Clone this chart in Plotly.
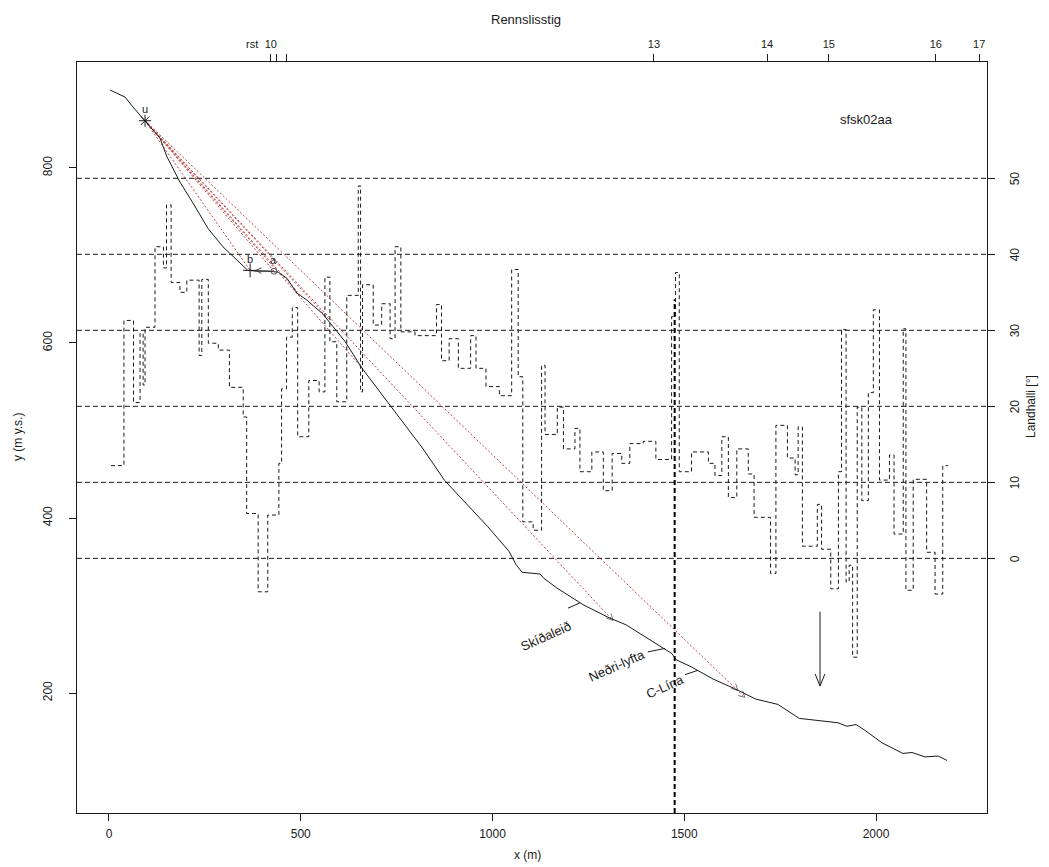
import math
import plotly.graph_objects as go

# Terrain profile along the path (x in m, elevation in m a.s.l.)
profile_x = [3, 42, 60, 86, 94, 115, 133, 151, 185, 219, 258, 297, 342, 362, 386, 412,
             441, 464, 490, 516, 558, 615, 660, 740, 819, 875, 931, 988, 1043, 1061, 1077,
             1124, 1134, 1168, 1236, 1304, 1348, 1405, 1439, 1468, 1479, 1518, 1575, 1631,
             1687, 1744, 1800, 1857, 1901, 1924, 1948, 1969, 2016, 2070, 2094, 2128, 2162, 2185]
profile_y = [889, 881, 871, 858, 854, 843, 834, 813, 784, 760, 731, 710, 691, 683, 682, 682,
             681, 674, 657, 649, 633, 602, 571, 525, 479, 443, 417, 390, 362, 347, 338,
             336, 331, 320, 301, 286, 278, 262, 253, 245, 238, 230, 216, 205,
             193, 187, 171, 168, 166, 162, 164, 158, 143, 131, 132, 127, 128, 123]

# Slope (Landhalli) per segment: segment edges in m and slope in degrees
slope_edges = [5, 39, 64, 81, 89, 94, 120, 142, 150, 162, 185, 203, 235, 242, 259, 285, 314,
               350, 359, 389, 414, 443, 450, 463, 478, 492, 521, 548, 563, 576, 594, 620, 650,
               656, 661, 689, 711, 733, 746, 761, 798, 854, 867, 887, 911, 943, 957, 983, 1018,
               1050, 1067, 1079, 1106, 1128, 1137, 1169, 1185, 1215, 1228, 1259, 1289, 1312,
               1337, 1358, 1393, 1426, 1467, 1477, 1487, 1519, 1563, 1580, 1598, 1615, 1637,
               1667, 1682, 1725, 1739, 1769, 1789, 1797, 1808, 1847, 1858, 1882, 1902, 1910,
               1922, 1930, 1939, 1951, 1963, 1980, 1993, 2009, 2035, 2047, 2071, 2078, 2097,
               2132, 2154, 2174, 2188]
slope_deg = [12.2, 31.3, 20.5, 29.6, 22.8, 30.4, 41, 38.2, 46.5, 36.3, 35, 36.6, 26.7, 36.7,
             28.3, 27.4, 22.5, 18.6, 5.9, -4.4, 5.7, 12.5, 22.3, 29.1, 33, 16, 23.4, 21.9, 37,
             28.5, 20.6, 34.6, 49, 21.9, 36, 30.7, 33.5, 28.9, 41, 29.8, 29.3, 33.4, 26, 28.9,
             25, 29.3, 25, 22.6, 21.4, 38, 23.9, 4.8, 3.7, 25.4, 16.3, 19.9, 14.4, 17.1, 11.4,
             14, 8.9, 13.8, 12.5, 15.1, 15.4, 13, 31.8, 37.6, 11.4, 14, 12.5, 10.9, 16, 8,
             14.4, 11.1, 5.4, -2, 17.5, 13.2, 11, 17.3, 1.6, 7.1, 1.2, -4, 11.4, 30.1, -3.1,
             -0.9, -13, 19.9, 7.6, 21.8, 32.7, 10.3, 13.6, 3.2, 30.2, -4.2, 10.4, 0.8, -4.7, 12.2]

# Release point u, points b and a, and reach end points seen from u
point_u = (94, 854)
point_b = (368, 683)
point_a = (430, 682)
reach_x = [368, 430, 498, 576, 655, 1314, 1658]
reach_y = [683, 682, 655, 626, 574, 283, 195]

# Vertical marker line and the downward arrow
barrier_x = 1475
barrier_y = [62.9, 650]
arrow_x = 1854
arrow_y = [293, 208]

# Place names along the profile: text position and leader line
place_names = ["Skíðaleið", "Neðri-lyfta", "C-Lína"]
name_x = [1137, 1325, 1450]
name_y = [265, 231, 208]
leader_x0 = [1197, 1405, 1502]
leader_y0 = [297, 247, 221]
leader_x1 = [1228, 1450, 1536]
leader_y1 = [303, 251, 226]

# Axis ticks
x_ticks = [0, 500, 1000, 1500, 2000]
y_ticks = [200, 400, 600, 800]
deg_ticks = [0, 10, 20, 30, 40, 50]
top_ticks = [422, 438, 464, 1421, 1716, 1877, 2156, 2269]
top_labels = ["10", "", "", "13", "14", "15", "16", "17"]
rst_x = 372

X_RANGE = [-83.4, 2289.4]
Y_RANGE = [62.9, 921.1]
D_RANGE = [-33.5, 65.3]

W, H = 1049, 867
ML, MR, MT, MB = 77, 62, 62, 54
PW, PH = W - ML - MR, H - MT - MB
SX = PW / (X_RANGE[1] - X_RANGE[0])   # px per m (x)
SY = PH / (Y_RANGE[1] - Y_RANGE[0])   # px per m (y)

FONT = "Liberation Sans, Arial, sans-serif"
INK = "#1a1a1a"


def px_x(px):
    """Horizontal page pixel -> paper coordinate."""
    return (px - ML) / PW


def px_y(py):
    """Vertical page pixel -> paper coordinate."""
    return (H - MB - py) / PH


def open_head(tip_x, tip_y, from_x, from_y, size=8, spread=28):
    """Open V arrow head at tip, pointing away from 'from', sized in pixels."""
    dxp = (tip_x - from_x) * SX
    dyp = (tip_y - from_y) * SY
    ang = math.atan2(dyp, dxp)
    xs, ys = [], []
    for s in (1, -1):
        a = ang + math.pi - s * math.radians(spread)
        xs.append(tip_x + size * math.cos(a) / SX)
        ys.append(tip_y + size * math.sin(a) / SY)
    return [xs[0], tip_x, xs[1]], [ys[0], tip_y, ys[1]]


def add_line(fig, xs, ys, color=INK, width=1, dash=None, **kw):
    fig.add_trace(go.Scatter(x=xs, y=ys, mode="lines",
                             line=dict(color=color, width=width, dash=dash),
                             hoverinfo="skip", showlegend=False, **kw))


fig = go.Figure()

# Slope step curve on the right axis
fig.add_trace(go.Scatter(
    x=slope_edges, y=slope_deg + [slope_deg[-1]], xaxis="x", yaxis="y2",
    mode="lines", line=dict(color=INK, width=1, dash="4px,3px", shape="hv"),
    hoverinfo="skip", showlegend=False))

# Reach lines from u
for ex, ey in zip(reach_x, reach_y):
    add_line(fig, [point_u[0], ex], [point_u[1], ey], color="rgb(185,70,70)",
             dash="2px,2px")

# Arrow heads at the ends of the two longest reach lines
for ex, ey in zip(reach_x[-2:], reach_y[-2:]):
    hx, hy = open_head(ex, ey, point_u[0], point_u[1], size=7)
    add_line(fig, hx, hy, color="#777")
hx, hy = open_head(reach_x[-1] - 10 / SX * 0.7, reach_y[-1] + 10 / SY * 0.7,
                   point_u[0], point_u[1], size=7)
add_line(fig, hx, hy, color="#777")

# Terrain profile
add_line(fig, profile_x, profile_y)

# Vertical marker line
add_line(fig, [barrier_x, barrier_x], barrier_y, color="black", width=2, dash="5px,3px")

# Downward arrow
add_line(fig, [arrow_x, arrow_x], arrow_y)
hx, hy = open_head(arrow_x, arrow_y[1], arrow_x, arrow_y[0], size=13, spread=22)
add_line(fig, hx, hy)

# Small arrow from a toward b
add_line(fig, [point_a[0], point_b[0]], [point_a[1], point_b[1]], color="#444")
hx, hy = open_head(point_b[0] + 6 / SX, point_b[1], point_a[0], point_a[1], size=6)
add_line(fig, hx, hy, color="#444")

# Points u, b, a
for pt, sym, size, col in [(point_u, "asterisk-open", 10, INK),
                           (point_b, "cross-thin-open", 10, INK),
                           (point_a, "circle-open", 6, "#555")]:
    fig.add_trace(go.Scatter(x=[pt[0]], y=[pt[1]], mode="markers",
                             marker=dict(symbol=sym, size=size, color=col,
                                         line=dict(color=col, width=1)),
                             hoverinfo="skip", showlegend=False))

# Leader lines for place names
for x0, y0, x1, y1 in zip(leader_x0, leader_y0, leader_x1, leader_y1):
    add_line(fig, [x0, x1], [y0, y1])

# Anchor trace for the top axis
fig.add_trace(go.Scatter(x=[X_RANGE[0]], y=[Y_RANGE[0]], xaxis="x2", yaxis="y",
                         mode="markers", marker=dict(opacity=0), hoverinfo="skip",
                         showlegend=False))

shapes = []
for d in deg_ticks:
    shapes.append(dict(type="line", xref="paper", yref="y2", x0=0, x1=1, y0=d, y1=d,
                       line=dict(color=INK, width=1, dash="5px,3px")))


def txt(text, size=12, **kw):
    base = dict(text=text, showarrow=False, xanchor="center", yanchor="middle",
                font=dict(family=FONT, size=size, color=INK))
    base.update(kw)
    return base


annotations = []
for name, tx, ty in zip(place_names, name_x, name_y):
    annotations.append(txt(name, 13, x=tx, y=ty, xref="x", yref="y", textangle=-24))
annotations += [
    txt("u", 11, x=point_u[0], y=point_u[1], xref="x", yref="y", yshift=12),
    txt("b", 11, x=point_b[0], y=point_b[1], xref="x", yref="y", yshift=11),
    txt("a", 11, x=point_a[0], y=point_a[1], xref="x", yref="y", yshift=11),
    txt("sfsk02aa", 13, x=1974, y=855, xref="x", yref="y"),
    txt("rst", 11, x=rst_x, y=px_y(44), xref="x", yref="paper"),
    txt("Rennslisstig", 13, x=px_x(526), y=px_y(20), xref="paper", yref="paper"),
    txt("x (m)", 12, x=px_x(527), y=px_y(855), xref="paper", yref="paper"),
    txt("y (m y.s.)", 12, x=px_x(18), y=px_y(437), xref="paper", yref="paper",
        textangle=-90),
    txt("Landhalli [°]", 12, x=px_x(1031), y=px_y(407), xref="paper", yref="paper",
        textangle=-90),
]
# Right-axis tick labels
for d in deg_ticks:
    annotations.append(txt(str(d), 12, x=px_x(1015), y=d, xref="paper", yref="y2",
                           textangle=-90))

axis_common = dict(showgrid=False, zeroline=False, showline=True, linecolor=INK,
                   linewidth=1, ticks="outside", ticklen=7, tickcolor=INK,
                   tickfont=dict(family=FONT, size=12, color=INK))

fig.update_layout(
    width=W, height=H, margin=dict(l=ML, r=MR, t=MT, b=MB),
    paper_bgcolor="white", plot_bgcolor="white", showlegend=False,
    xaxis=dict(range=X_RANGE, tickvals=x_ticks, ticklabelstandoff=3, **axis_common),
    xaxis2=dict(range=X_RANGE, overlaying="x", side="top", tickvals=top_ticks,
                ticktext=top_labels, ticklabelstandoff=2,
                **{**axis_common, "tickfont": dict(family=FONT, size=11, color=INK)}),
    yaxis=dict(range=Y_RANGE, tickvals=y_ticks, tickangle=-90, ticklabelstandoff=12,
               **axis_common),
    yaxis2=dict(range=D_RANGE, overlaying="y", side="right", tickvals=deg_ticks,
                showticklabels=False, **axis_common),
    shapes=shapes, annotations=annotations,
)

fig.write_html("out.html")
